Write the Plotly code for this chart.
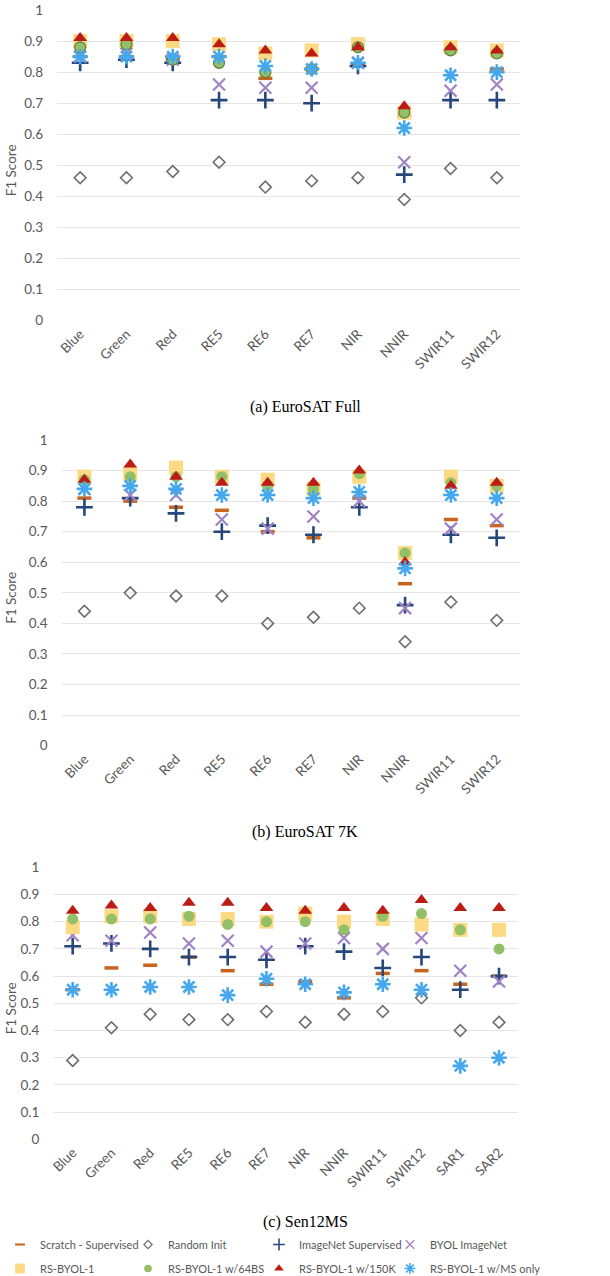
import plotly.graph_objects as go

# Band labels
bands_euro = ["Blue", "Green", "Red", "RE5", "RE6", "RE7", "NIR", "NNIR", "SWIR11", "SWIR12"]
bands_sen = bands_euro + ["SAR1", "SAR2"]

series_names = [
    "Scratch - Supervised", "Random Init", "ImageNet Supervised", "BYOL ImageNet",
    "RS-BYOL-1", "RS-BYOL-1 w/64BS", "RS-BYOL-1 w/150K", "RS-BYOL-1 w/MS only",
]

# (a) EuroSAT Full
full_scratch = [0.85, 0.85, 0.84, 0.85, 0.78, 0.81, 0.82, 0.66, 0.87, 0.81]
full_random = [0.46, 0.46, 0.48, 0.51, 0.43, 0.45, 0.46, 0.39, 0.49, 0.46]
full_imagenet = [0.83, 0.84, 0.83, 0.71, 0.71, 0.70, 0.82, 0.47, 0.71, 0.71]
full_byol = [0.85, 0.86, 0.84, 0.76, 0.75, 0.75, 0.83, 0.51, 0.74, 0.76]
full_rsbyol = [0.90, 0.90, 0.90, 0.89, 0.86, 0.87, 0.89, 0.67, 0.88, 0.87]
full_64bs = [0.88, 0.89, 0.84, 0.83, 0.80, 0.81, 0.88, 0.67, 0.87, 0.86]
full_150k = [0.91, 0.91, 0.91, 0.89, 0.87, 0.86, 0.88, 0.69, 0.88, 0.87]
full_msonly = [0.85, 0.85, 0.85, 0.85, 0.82, 0.81, 0.83, 0.62, 0.79, 0.80]

# (b) EuroSAT 7K
k7_scratch = [0.81, 0.80, 0.78, 0.77, 0.70, 0.68, 0.81, 0.53, 0.74, 0.72]
k7_random = [0.44, 0.50, 0.49, 0.49, 0.40, 0.42, 0.45, 0.34, 0.47, 0.41]
k7_imagenet = [0.78, 0.81, 0.76, 0.70, 0.72, 0.69, 0.78, 0.46, 0.69, 0.68]
k7_byol = [0.84, 0.82, 0.82, 0.74, 0.71, 0.75, 0.80, 0.45, 0.71, 0.74]
k7_rsbyol = [0.88, 0.89, 0.91, 0.88, 0.87, 0.84, 0.88, 0.63, 0.88, 0.85]
k7_64bs = [0.87, 0.88, 0.88, 0.88, 0.85, 0.84, 0.89, 0.63, 0.86, 0.85]
k7_150k = [0.87, 0.92, 0.88, 0.86, 0.86, 0.86, 0.90, 0.60, 0.85, 0.86]
k7_msonly = [0.84, 0.85, 0.84, 0.82, 0.82, 0.81, 0.83, 0.58, 0.82, 0.81]

# (c) Sen12MS
sen_scratch = [0.55, 0.63, 0.64, 0.67, 0.62, 0.57, 0.58, 0.52, 0.61, 0.62, 0.57, 0.60]
sen_random = [0.29, 0.41, 0.46, 0.44, 0.44, 0.47, 0.43, 0.46, 0.47, 0.52, 0.40, 0.43]
sen_imagenet = [0.71, 0.72, 0.70, 0.67, 0.67, 0.66, 0.71, 0.69, 0.63, 0.67, 0.55, 0.60]
sen_byol = [0.75, 0.73, 0.76, 0.72, 0.73, 0.69, 0.72, 0.74, 0.70, 0.74, 0.62, 0.58]
sen_rsbyol = [0.78, 0.82, 0.82, 0.81, 0.81, 0.80, 0.83, 0.80, 0.81, 0.79, 0.77, 0.77]
sen_64bs = [0.81, 0.81, 0.81, 0.82, 0.79, 0.80, 0.80, 0.77, 0.82, 0.83, 0.77, 0.70]
sen_150k = [0.84, 0.86, 0.85, 0.87, 0.87, 0.85, 0.84, 0.85, 0.84, 0.88, 0.85, 0.85]
sen_msonly = [0.55, 0.55, 0.56, 0.56, 0.53, 0.59, 0.57, 0.54, 0.57, 0.55, 0.27, 0.30]

panels = [
    dict(cats=bands_euro, caption="(a) EuroSAT Full",
         data=[full_scratch, full_random, full_imagenet, full_byol,
               full_rsbyol, full_64bs, full_150k, full_msonly],
         x0=57, x1=520, ytop=10, ybot=320.7, cap_y=407, circle_edge=True),
    dict(cats=bands_euro, caption="(b) EuroSAT 7K",
         data=[k7_scratch, k7_random, k7_imagenet, k7_byol,
               k7_rsbyol, k7_64bs, k7_150k, k7_msonly],
         x0=61.5, x1=519.6, ytop=440, ybot=745.7, cap_y=832, circle_edge=False),
    dict(cats=bands_sen, caption="(c) Sen12MS",
         data=[sen_scratch, sen_random, sen_imagenet, sen_byol,
               sen_rsbyol, sen_64bs, sen_150k, sen_msonly],
         x0=53.3, x1=518.4, ytop=867.3, ybot=1139.3, cap_y=1222, circle_edge=False),
]

W, H = 610, 1276
GREY = "#595959"
FONT = "Lato"

COLORS = ["#c8641e", "#6e6e6e", "#26477a", "#a083c5",
          "#fcd983", "#93bf66", "#bb1d15", "#45a8ec"]

# Legend laid out as four columns of two entries each
LEGEND_COLS_X = [0, 128, 259, 390]


def marker_style(i, circle_edge=False, scale=1.0):
    c = COLORS[i]
    styles = [
        dict(symbol="line-ew", size=10, color=c, line=dict(color=c, width=3.5)),
        dict(symbol="diamond-open", size=9, color=c, line=dict(color=c, width=1.6)),
        dict(symbol="cross-thin", size=12, color=c, line=dict(color=c, width=2.6)),
        dict(symbol="x-thin", size=12, color=c, line=dict(color=c, width=2.2)),
        dict(symbol="square", size=14, color=c, line=dict(width=0)),
        dict(symbol="circle", size=11, color=c,
             line=dict(color="#5f7d3a" if circle_edge else c, width=1 if circle_edge else 0)),
        dict(symbol="triangle-up", size=12, color=c, line=dict(width=0)),
        dict(symbol="asterisk-open", size=13, color=c, line=dict(color=c, width=2.6)),
    ]
    st = styles[i]
    st["size"] = st["size"] * scale
    if st["line"].get("width"):
        st["line"]["width"] = max(1.2, st["line"]["width"] * (0.6 if scale < 1 else 1))
    return st


fig = go.Figure()
layout = {}
annotations = []
for p_idx, p in enumerate(panels):
    ax = "" if p_idx == 0 else str(p_idx + 1)
    for s_idx, name in enumerate(series_names):
        fig.add_trace(go.Scatter(
            x=p["cats"], y=p["data"][s_idx], mode="markers", name=name,
            marker=marker_style(s_idx, p["circle_edge"]),
            xaxis="x" + ax, yaxis="y" + ax,
            showlegend=False, cliponaxis=False,
        ))
    layout["xaxis" + ax] = dict(
        domain=[p["x0"] / W, p["x1"] / W], anchor="y" + ax,
        type="category", range=[-0.5, len(p["cats"]) - 0.5],
        tickangle=-45, tickfont=dict(family=FONT, size=13.5, color=GREY),
        showgrid=False, showline=False, zeroline=False, ticks="",
        ticklabelstandoff=2, automargin=False,
    )
    layout["yaxis" + ax] = dict(
        domain=[1 - p["ybot"] / H, 1 - p["ytop"] / H], anchor="x" + ax,
        range=[0, 1], dtick=0.1, tick0=0,
        tickfont=dict(family=FONT, size=13.5, color=GREY),
        gridcolor="#e6e6e6", gridwidth=1, zeroline=False, showline=False, ticks="",
        ticklabelstandoff=13, automargin=False,
    )
    # y-axis title, placed next to the tick labels
    annotations.append(dict(
        text="F1 Score", textangle=-90, x=11 / W, y=1 - (p["ytop"] + p["ybot"]) / 2 / H - 5 / H,
        xref="paper", yref="paper", showarrow=False, xanchor="center", yanchor="middle",
        font=dict(family=FONT, size=13.5, color=GREY),
    ))
    # panel caption
    annotations.append(dict(
        text=p["caption"], x=305 / W, y=1 - p["cap_y"] / H, xref="paper", yref="paper",
        showarrow=False, xanchor="center", yanchor="middle",
        font=dict(family="Liberation Serif", size=16, color="black"),
    ))

# Legend entries with compact symbols
legend_ids = ["legend", "legend2", "legend3", "legend4"]
for s_idx, name in enumerate(series_names):
    fig.add_trace(go.Scatter(
        x=[None], y=[None], mode="markers", name=name,
        marker=marker_style(s_idx, scale=0.7), showlegend=True,
        legend=legend_ids[s_idx % 4], legendgroup=name,
    ))

for k, lid in enumerate(legend_ids):
    layout[lid] = dict(
        orientation="v", x=LEGEND_COLS_X[k] / W, xanchor="left",
        y=1 - 1230 / H, yanchor="top",
        font=dict(family=FONT, size=11, color=GREY),
        itemwidth=30, tracegroupgap=5, bgcolor="rgba(0,0,0,0)",
    )

fig.update_layout(
    width=W, height=H, margin=dict(l=0, r=0, t=0, b=0, autoexpand=False),
    paper_bgcolor="white", plot_bgcolor="white",
    annotations=annotations,
    **layout,
)

fig.write_html("out.html")
